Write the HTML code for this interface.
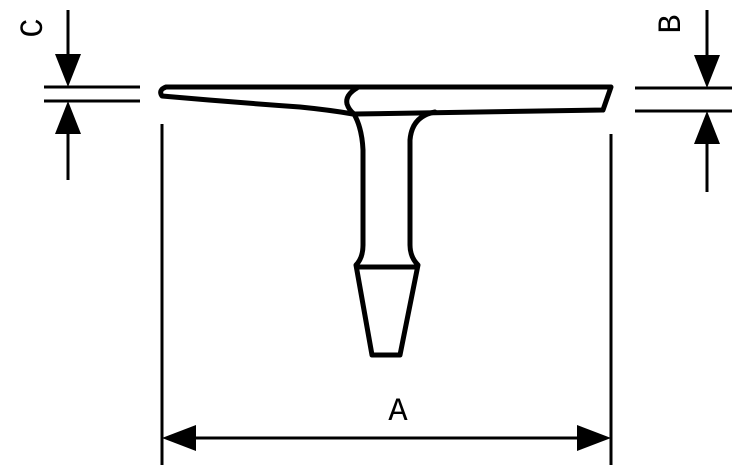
<!DOCTYPE html>
<html><head><style>html,body{margin:0;padding:0;background:#fff}svg{display:block}</style></head>
<body>
<svg width="732" height="468" viewBox="0 0 732 468" xmlns="http://www.w3.org/2000/svg">
<g fill="none" stroke="#000" stroke-linejoin="round" stroke-linecap="round">
<path stroke-width="5" d="M166 87 L611 87 L603 110 L355 114 M166 87 Q158 90 162 96 Q230 102 300 107 Q330 110 353 114"/>
<path stroke-width="5" d="M357 88 Q345 95 347 104 Q349 110 354 114"/>
<path stroke-width="5" d="M354 114 Q362 128 363 150 L363 245 Q363 258 356 265 L372 355 L400 355 L418 265 Q410 257 410 245 L410 140 Q412 116 435 112"/>
<path stroke-width="5" d="M357 267 L417 267"/>
</g>
<g stroke="#000" stroke-width="3" fill="none">
<line x1="44" y1="87" x2="140" y2="87"/><line x1="44" y1="101" x2="140" y2="101"/>
<line x1="68" y1="10" x2="68" y2="60"/><line x1="68" y1="130" x2="68" y2="180"/>
<line x1="635" y1="88" x2="732" y2="88"/><line x1="635" y1="111" x2="732" y2="111"/>
<line x1="707" y1="10" x2="707" y2="60"/><line x1="707" y1="140" x2="707" y2="192"/>
<line x1="162" y1="124" x2="162" y2="465"/><line x1="611" y1="134" x2="611" y2="465"/>
<line x1="190" y1="438" x2="585" y2="438"/>
</g>
<g fill="#000">
<polygon points="55,54 81,54 68,87"/><polygon points="55,134 81,134 68,101"/>
<polygon points="694,55 720,55 707,88"/><polygon points="694,144 720,144 707,111"/>
<polygon points="162,438 196,425 196,451"/><polygon points="611,438 577,425 577,451"/>
</g>
<g style="font-family:'Liberation Mono',monospace;font-size:32px" fill="#000">
<text x="398" y="420" text-anchor="middle">A</text>
<text transform="translate(42,28) rotate(-90)" text-anchor="middle">C</text>
<text transform="translate(680,24) rotate(-90)" text-anchor="middle">B</text>
</g>
</svg>
</body></html>
